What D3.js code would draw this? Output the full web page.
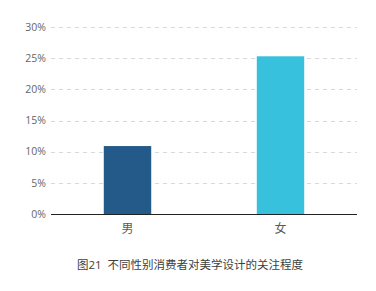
<!DOCTYPE html>
<html>
<head>
<meta charset="utf-8">
<script src="https://cdn.jsdelivr.net/npm/d3@7"></script>
<style>
  body { margin: 0; background: #fff; }
  svg { font-family: "Open Sans", "Noto Sans CJK SC", sans-serif; }
</style>
</head>
<body>
<div id="chart"></div>
<script>
const categories = ['男', '女'];
const values = [10.9, 25.3];
const barColors = ['#235a89', '#38c1dc'];
const yTicks = [0, 5, 10, 15, 20, 25, 30];
const title = '图21  不同性别消费者对美学设计的关注程度';

const width = 376, height = 291;
const margin = { top: 27, right: 19, bottom: 77, left: 51 };

const svg = d3.select('#chart')
  .append('svg')
  .attr('width', width)
  .attr('height', height);

const x = d3.scaleBand()
  .domain(categories)
  .range([margin.left, width - margin.right])
  .paddingInner(0.69)
  .paddingOuter(0.345);

const y = d3.scaleLinear()
  .domain([0, 30])
  .range([height - margin.bottom, margin.top]);

// grid
svg.append('g')
  .selectAll('line')
  .data(yTicks.slice(1))
  .join('line')
  .attr('x1', margin.left)
  .attr('x2', width - margin.right)
  .attr('y1', d => Math.round(y(d)) + 0.5)
  .attr('y2', d => Math.round(y(d)) + 0.5)
  .attr('stroke', '#d9d9d9')
  .attr('stroke-dasharray', '4,4');

// y labels
svg.append('g')
  .selectAll('text')
  .data(yTicks)
  .join('text')
  .attr('x', margin.left - 5)
  .attr('y', d => y(d))
  .attr('dy', '0.35em')
  .attr('text-anchor', 'end')
  .attr('fill', '#666')
  .style('font-size', '10.5px')
  .text(d => d + '%');

// bars
svg.append('g')
  .selectAll('rect')
  .data(values)
  .join('rect')
  .attr('x', (d, i) => x(categories[i]))
  .attr('width', x.bandwidth())
  .attr('y', d => y(d))
  .attr('height', d => y(0) - y(d))
  .attr('fill', (d, i) => barColors[i]);

// x axis line
svg.append('line')
  .attr('x1', margin.left)
  .attr('x2', width - margin.right)
  .attr('y1', Math.round(y(0)) + 0.5)
  .attr('y2', Math.round(y(0)) + 0.5)
  .attr('stroke', '#222');

// x labels
svg.append('g')
  .selectAll('text')
  .data(categories)
  .join('text')
  .attr('x', d => x(d) + x.bandwidth() / 2)
  .attr('y', y(0) + 19)
  .attr('text-anchor', 'middle')
  .attr('fill', '#595959')
  .style('font-size', '12px')
  .text(d => d);

svg.append('text')
  .attr('x', width / 2 + 2)
  .attr('y', 269)
  .attr('text-anchor', 'middle')
  .attr('fill', '#404040')
  .style('font-size', '11.5px')
  .style('white-space', 'pre')
  .text(title);
</script>
</body>
</html>
